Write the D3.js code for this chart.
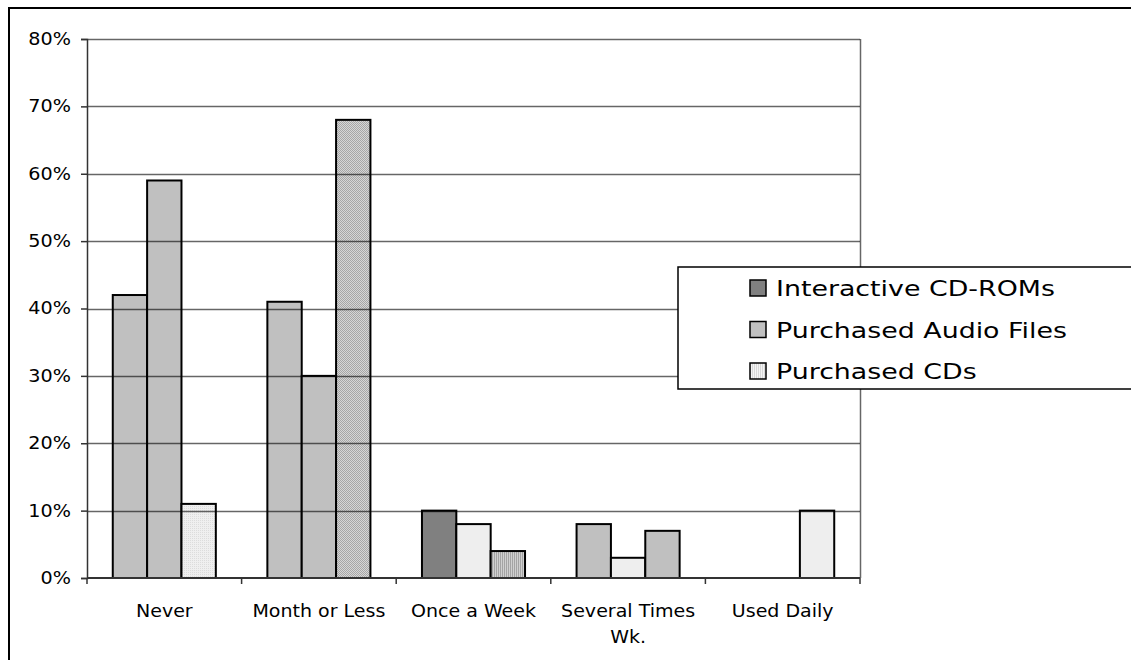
<!DOCTYPE html>
<html>
<head>
<meta charset="utf-8">
<script src="https://cdn.jsdelivr.net/npm/d3@7"></script>
<style>
  html, body { margin: 0; padding: 0; background: #fff; }
  svg { display: block; }
  text { font-family: "DejaVu Sans", Verdana, sans-serif; fill: #000; }
</style>
</head>
<body>
<svg id="chart" width="1131" height="660"></svg>
<script>
// Usage frequency categories
const categories = ["Never", "Month or Less", "Once a Week", "Several Times\nWk.", "Used Daily"];
// Series names shown in the legend
const seriesNames = ["Interactive CD-ROMs", "Purchased Audio Files", "Purchased CDs"];
// Share of respondents per category, one array per series
const cdRoms     = [0.42, 0.41, 0.10, 0.08, 0.00];
const audioFiles = [0.59, 0.30, 0.08, 0.03, 0.00];
const cds        = [0.11, 0.68, 0.04, 0.07, 0.10];
const yTicks = [0, 0.1, 0.2, 0.3, 0.4, 0.5, 0.6, 0.7, 0.8];

// Fill of each bar (per category, per series) and of each legend swatch
const barFills = [
  ["mid", "mid", "url(#stipple)"],
  ["mid", "mid", "url(#checker)"],
  ["dark", "light", "url(#vstripe)"],
  ["mid", "light", "mid"],
  ["mid", "mid", "light"]
];
const legendFills = ["dark", "mid", "url(#vlight)"];
const palette = { dark: "#808080", mid: "#c0c0c0", light: "#eeeeee" };
const fillOf = k => palette[k] || k;

const seriesValues = [cdRoms, audioFiles, cds];

const svg = d3.select("#chart");
const defs = svg.append("defs");

// Texture fills
function pattern(id, w, h, bg, cells) {
  const p = defs.append("pattern").attr("id", id).attr("patternUnits", "userSpaceOnUse")
    .attr("width", w).attr("height", h);
  p.append("rect").attr("width", w).attr("height", h).attr("fill", bg);
  cells.forEach(c => p.append("rect").attr("x", c[0]).attr("y", c[1])
    .attr("width", c[2]).attr("height", c[3]).attr("fill", c[4]));
}
pattern("stipple", 2, 2, "#efefef", [[0, 0, 1, 1, "#dcdcdc"]]);
pattern("checker", 2, 2, "#d6d6d6", [[0, 0, 1, 1, "#a6a6a6"], [1, 1, 1, 1, "#a6a6a6"]]);
pattern("vstripe", 2, 2, "#d0d0d0", [[0, 0, 1, 2, "#a4a4a4"]]);
pattern("vlight", 2, 2, "#f4f4f4", [[0, 0, 1, 2, "#d8d8d8"]]);

// Outer frame (open to the right and bottom)
svg.append("path").attr("d", "M9,660 V8 H1131")
  .attr("fill", "none").attr("stroke", "#000").attr("stroke-width", 2);

const plot = { left: 87, right: 860, top: 39, bottom: 578 };

const x = d3.scaleBand().domain(categories).range([plot.left, plot.right]).padding(0);
const xs = d3.scaleBand().domain(seriesNames).range([0, x.bandwidth()])
  .paddingInner(0).paddingOuter(0.75);
const y = d3.scaleLinear().domain([0, 0.8]).range([plot.bottom, plot.top]);

// Bars
const bars = [];
categories.forEach((c, ci) => {
  seriesNames.forEach((s, si) => {
    bars.push({ cat: c, series: s, value: seriesValues[si][ci], fill: fillOf(barFills[ci][si]) });
  });
});
svg.append("g").selectAll("rect").data(bars.filter(d => d.value > 0)).join("rect")
  .attr("x", d => x(d.cat) + xs(d.series))
  .attr("y", d => y(d.value))
  .attr("width", xs.bandwidth())
  .attr("height", d => y(0) - y(d.value))
  .attr("fill", d => d.fill)
  .attr("stroke", "#000").attr("stroke-width", 2);

// Gridlines drawn over the bars
svg.append("g").selectAll("line").data(yTicks.filter(t => t > 0)).join("line")
  .attr("x1", plot.left).attr("x2", plot.right)
  .attr("y1", d => Math.round(y(d)) + 0.5).attr("y2", d => Math.round(y(d)) + 0.5)
  .attr("stroke", "#000").attr("stroke-opacity", 0.6).attr("stroke-width", 1.5);

// Plot area right edge
svg.append("line").attr("x1", plot.right + 0.5).attr("x2", plot.right + 0.5)
  .attr("y1", plot.top).attr("y2", plot.bottom)
  .attr("stroke", "#000").attr("stroke-opacity", 0.6).attr("stroke-width", 1.5);

// Wide-glyph text: horizontally stretched sans
const sxTick = 1.13, sxCat = 1.12, sxLegend = 1.22;

// Y axis
const yAxis = svg.append("g").attr("transform", `translate(${plot.left},0)`)
  .call(d3.axisLeft(y).tickValues(yTicks).tickFormat(d3.format(".0%")).tickSize(6).tickPadding(10));
yAxis.select(".domain").attr("stroke", "#333").attr("stroke-width", 1.5);
yAxis.selectAll(".tick line").attr("stroke", "#333").attr("stroke-width", 1.5);
yAxis.selectAll(".tick text").attr("font-size", 17).attr("font-family", "DejaVu Sans")
  .attr("fill", "#000").attr("x", -16 / sxTick).attr("transform", `scale(${sxTick},1)`);

// X axis with ticks at category boundaries
const xAxisG = svg.append("g").attr("transform", `translate(0,${plot.bottom})`);
xAxisG.append("line").attr("x1", plot.left).attr("x2", plot.right)
  .attr("stroke", "#333").attr("stroke-width", 2);
const bounds = categories.map(c => x(c)).concat([plot.right]);
xAxisG.selectAll("line.tk").data(bounds).join("line").attr("class", "tk")
  .attr("x1", d => d).attr("x2", d => d).attr("y1", 0).attr("y2", 6)
  .attr("stroke", "#333").attr("stroke-width", 1.5);
const lbl = xAxisG.selectAll("text").data(categories).join("text")
  .attr("text-anchor", "middle").attr("font-size", 17)
  .attr("transform", d => `translate(${x(d) + x.bandwidth() / 2},39) scale(${sxCat},1)`);
lbl.selectAll("tspan").data(d => d.split("\n")).join("tspan")
  .attr("x", 0).attr("dy", (d, i) => i === 0 ? 0 : 26).text(d => d);

// Legend
const lg = svg.append("g").attr("transform", "translate(678,267)");
lg.append("rect").attr("x", 0).attr("y", 0).attr("width", 470).attr("height", 122)
  .attr("fill", "#fff").attr("stroke", "#000").attr("stroke-width", 1.5);
const items = lg.selectAll("g.item").data(seriesNames).join("g").attr("class", "item")
  .attr("transform", (d, i) => `translate(0,${21 + i * 41.5})`);
items.append("rect").attr("x", 72).attr("y", -8).attr("width", 16).attr("height", 16)
  .attr("fill", (d, i) => fillOf(legendFills[i])).attr("stroke", "#000").attr("stroke-width", 1.5);
items.append("text").attr("transform", `translate(98,8) scale(${sxLegend},1)`)
  .attr("font-size", 22).text(d => d);
</script>
</body>
</html>
